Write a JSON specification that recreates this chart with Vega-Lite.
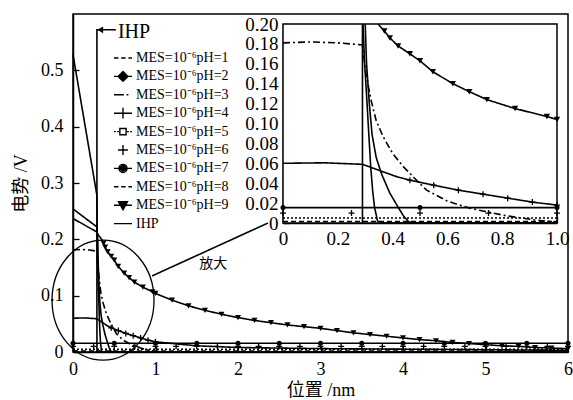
{
"$schema": "https://vega.github.io/schema/vega-lite/v6.json",
"width": 495, "height": 338,
"autosize": {"type": "none"},
"padding": {"left": 73, "top": 14, "right": 5, "bottom": 48},
"background": "white",
"config": {
  "view": {"stroke": "black", "strokeWidth": 1.5},
  "axis": {"grid": false, "domainColor": "black", "domainWidth": 1.5, "tickColor": "black", "tickWidth": 1.3, "labelColor": "black", "labelFont": "Liberation Serif", "labelOverlap": false, "labelFlush": false, "labelBound": false, "titleColor": "black", "titleFont": "Liberation Serif, Noto Sans CJK SC", "titleFontSize": 18, "titleFontWeight": "normal"}
},
"datasets": {
  "d": [
    {"s":"pH1","x":0,"y":0.528},{"s":"pH1","x":0.29,"y":0.278},{"s":"pH1","x":0.292,"y":0.2},{"s":"pH1","x":0.298,"y":0.16},{"s":"pH1","x":0.306,"y":0.124},{"s":"pH1","x":0.313,"y":0.09},{"s":"pH1","x":0.32,"y":0.057},{"s":"pH1","x":0.327,"y":0.033},{"s":"pH1","x":0.334,"y":0.016},{"s":"pH1","x":0.345,"y":0.002},{"s":"pH1","x":0.36,"y":0},{"s":"pH1","x":1,"y":0},{"s":"pH1","x":6,"y":0},
    {"s":"pH2","x":0,"y":0.254},{"s":"pH2","x":0.29,"y":0.222},{"s":"pH2","x":0.3,"y":0.2},{"s":"pH2","x":0.305,"y":0.16},{"s":"pH2","x":0.315,"y":0.12},{"s":"pH2","x":0.325,"y":0.089},{"s":"pH2","x":0.34,"y":0.066},{"s":"pH2","x":0.36,"y":0.049},{"s":"pH2","x":0.39,"y":0.03},{"s":"pH2","x":0.42,"y":0.016},{"s":"pH2","x":0.44,"y":0.007},{"s":"pH2","x":0.46,"y":0.001},{"s":"pH2","x":0.5,"y":0},{"s":"pH2","x":1,"y":0},{"s":"pH2","x":6,"y":0},
    {"s":"pH3","x":0,"y":0.181},{"s":"pH3","x":0.1,"y":0.182},{"s":"pH3","x":0.2,"y":0.181},{"s":"pH3","x":0.29,"y":0.179},{"s":"pH3","x":0.3,"y":0.155},{"s":"pH3","x":0.32,"y":0.125},{"s":"pH3","x":0.34,"y":0.103},{"s":"pH3","x":0.365,"y":0.087},{"s":"pH3","x":0.4,"y":0.07},{"s":"pH3","x":0.438,"y":0.057},{"s":"pH3","x":0.48,"y":0.045},{"s":"pH3","x":0.524,"y":0.033},{"s":"pH3","x":0.6,"y":0.022},{"s":"pH3","x":0.68,"y":0.015},{"s":"pH3","x":0.73,"y":0.012},{"s":"pH3","x":0.82,"y":0.007},{"s":"pH3","x":0.92,"y":0.003},{"s":"pH3","x":1,"y":0.001},{"s":"pH3","x":1.2,"y":0},
    {"s":"pH4","x":0,"y":0.06},{"s":"pH4","x":0.15,"y":0.0605},{"s":"pH4","x":0.29,"y":0.059},{"s":"pH4","x":0.354,"y":0.0526},{"s":"pH4","x":0.41,"y":0.047},{"s":"pH4","x":0.463,"y":0.043},{"s":"pH4","x":0.55,"y":0.038},{"s":"pH4","x":0.64,"y":0.033},{"s":"pH4","x":0.73,"y":0.029},{"s":"pH4","x":0.82,"y":0.025},{"s":"pH4","x":0.91,"y":0.021},{"s":"pH4","x":1,"y":0.018},{"s":"pH4","x":1.5,"y":0.011},{"s":"pH4","x":2,"y":0.008},{"s":"pH4","x":3,"y":0.006},{"s":"pH4","x":4,"y":0.005},{"s":"pH4","x":5,"y":0.004},{"s":"pH4","x":6,"y":0.003},
    {"s":"pH5","x":0,"y":0.005},{"s":"pH5","x":1,"y":0.005},{"s":"pH5","x":6,"y":0.005},
    {"s":"pH6","x":0,"y":0.01},{"s":"pH6","x":0.25,"y":0.01},{"s":"pH6","x":0.5,"y":0.01},{"s":"pH6","x":0.75,"y":0.01},{"s":"pH6","x":1,"y":0.01},{"s":"pH6","x":1.25,"y":0.01},{"s":"pH6","x":1.5,"y":0.01},{"s":"pH6","x":1.75,"y":0.01},{"s":"pH6","x":2,"y":0.01},{"s":"pH6","x":2.25,"y":0.01},{"s":"pH6","x":2.5,"y":0.01},{"s":"pH6","x":2.75,"y":0.01},{"s":"pH6","x":3,"y":0.01},{"s":"pH6","x":3.25,"y":0.01},{"s":"pH6","x":3.5,"y":0.01},{"s":"pH6","x":3.75,"y":0.01},{"s":"pH6","x":4,"y":0.01},{"s":"pH6","x":4.25,"y":0.01},{"s":"pH6","x":4.5,"y":0.01},{"s":"pH6","x":4.75,"y":0.01},{"s":"pH6","x":5,"y":0.01},{"s":"pH6","x":5.25,"y":0.01},{"s":"pH6","x":5.5,"y":0.01},{"s":"pH6","x":5.75,"y":0.01},{"s":"pH6","x":6,"y":0.01},
    {"s":"pH7","x":0,"y":0.0155},{"s":"pH7","x":0.5,"y":0.0155},{"s":"pH7","x":1,"y":0.0155},{"s":"pH7","x":1.5,"y":0.0155},{"s":"pH7","x":2,"y":0.0155},{"s":"pH7","x":2.5,"y":0.0155},{"s":"pH7","x":3,"y":0.0155},{"s":"pH7","x":3.5,"y":0.0155},{"s":"pH7","x":4,"y":0.0155},{"s":"pH7","x":4.5,"y":0.0155},{"s":"pH7","x":5,"y":0.0155},{"s":"pH7","x":5.5,"y":0.0155},{"s":"pH7","x":6,"y":0.0155},
    {"s":"pH8","x":0,"y":0.0015},{"s":"pH8","x":1,"y":0.0015},{"s":"pH8","x":6,"y":0.0015},
    {"s":"pH9","x":0,"y":0.237},{"s":"pH9","x":0.29,"y":0.213},{"s":"pH9","x":0.3,"y":0.209},{"s":"pH9","x":0.347,"y":0.2},{"s":"pH9","x":0.37,"y":0.193},{"s":"pH9","x":0.39,"y":0.186},{"s":"pH9","x":0.42,"y":0.178},{"s":"pH9","x":0.463,"y":0.17},{"s":"pH9","x":0.5,"y":0.163},{"s":"pH9","x":0.547,"y":0.152},{"s":"pH9","x":0.62,"y":0.14},{"s":"pH9","x":0.68,"y":0.132},{"s":"pH9","x":0.744,"y":0.124},{"s":"pH9","x":0.847,"y":0.115},{"s":"pH9","x":0.963,"y":0.107},{"s":"pH9","x":1,"y":0.104},{"s":"pH9","x":1.2,"y":0.092},{"s":"pH9","x":1.4,"y":0.082},{"s":"pH9","x":1.6,"y":0.074},{"s":"pH9","x":1.8,"y":0.067},{"s":"pH9","x":2,"y":0.061},{"s":"pH9","x":2.2,"y":0.056},{"s":"pH9","x":2.4,"y":0.052},{"s":"pH9","x":2.6,"y":0.048},{"s":"pH9","x":2.8,"y":0.045},{"s":"pH9","x":3,"y":0.042},{"s":"pH9","x":3.2,"y":0.038},{"s":"pH9","x":3.4,"y":0.034},{"s":"pH9","x":3.6,"y":0.031},{"s":"pH9","x":3.8,"y":0.028},{"s":"pH9","x":4,"y":0.025},{"s":"pH9","x":4.2,"y":0.022},{"s":"pH9","x":4.4,"y":0.02},{"s":"pH9","x":4.6,"y":0.017},{"s":"pH9","x":4.8,"y":0.015},{"s":"pH9","x":5,"y":0.013},{"s":"pH9","x":5.2,"y":0.011},{"s":"pH9","x":5.4,"y":0.01},{"s":"pH9","x":5.6,"y":0.008},{"s":"pH9","x":5.8,"y":0.007},{"s":"pH9","x":6,"y":0.006},
    {"s":"IHP","x":0.29,"y":0},{"s":"IHP","x":0.29,"y":0.2},{"s":"IHP","x":0.29,"y":0.572},{"s":"IHP","x":0.52,"y":0.572},
    {"s":"link","x":0.958,"y":0.135},{"s":"link","x":2.364,"y":0.229}
  ],
  "notes": [
    {"k":"IHP","x":0.545,"y":0.568,"t":"IHP"},
    {"k":"zoom","x":1.7,"y":0.156,"t":"放大"},
    {"k":"arrow","x":0.33,"y":0.572,"t":""},
    {"k":"lens","x":0.364,"y":0.092,"t":""}
  ],
  "keys": [
    {"k":"MES=10⁻⁶pH=1"},{"k":"MES=10⁻⁶pH=2"},{"k":"MES=10⁻⁶pH=3"},{"k":"MES=10⁻⁶pH=4"},{"k":"MES=10⁻⁶pH=5"},{"k":"MES=10⁻⁶pH=6"},{"k":"MES=10⁻⁶pH=7"},{"k":"MES=10⁻⁶pH=8"},{"k":"MES=10⁻⁶pH=9"},{"k":"IHP"}
  ]
},
"layer": [
  {
    "data": {"name": "d"},
    "transform": [{"filter": "datum.s != 'pH6'"}],
    "mark": {"type": "line", "color": "black", "strokeWidth": 1.6},
    "encoding": {
      "x": {"field": "x", "type": "quantitative", "scale": {"domain": [0, 6]},
            "axis": {"orient": "bottom", "title": "位置 /nm", "values": [0,1,2,3,4,5,6], "format": "d", "labelFontSize": 18, "tickSize": -6, "labelPadding": 14, "titlePadding": 3}},
      "y": {"field": "y", "type": "quantitative", "scale": {"domain": [0, 0.6]},
            "axis": {"orient": "left", "title": "电势 /V", "values": [0,0.1,0.2,0.3,0.4,0.5], "labelExpr": "datum.value == 0 ? '0' : format(datum.value, '.1f')", "labelFontSize": 18, "tickSize": -6, "labelPadding": 16, "titlePadding": 10}},
      "strokeDash": {"field": "s", "type": "nominal",
            "scale": {"domain": ["pH1","pH2","pH3","pH4","pH5","pH7","pH8","pH9","IHP","link"],
                      "range": [[1,0],[1,0],[7,3,2,3],[1,0],[2,2],[1,0],[5,3],[1,0],[1,0],[1,0]]},
            "legend": null},
      "order": {"value": null}
    }
  },
  {
    "data": {"name": "d"},
    "transform": [{"filter": "datum.s == 'pH9' && datum.x >= 0.36"}],
    "mark": {"type": "point", "shape": "triangle-down", "filled": true, "color": "black", "opacity": 1, "size": 36},
    "encoding": {
      "x": {"field": "x", "type": "quantitative", "scale": {"domain": [0, 6]}, "axis": null},
      "y": {"field": "y", "type": "quantitative", "scale": {"domain": [0, 0.6]}, "axis": null}
    }
  },
  {
    "data": {"name": "d"},
    "transform": [{"filter": "datum.s == 'pH7'"}],
    "mark": {"type": "point", "shape": "circle", "filled": true, "color": "black", "opacity": 1, "size": 25},
    "encoding": {
      "x": {"field": "x", "type": "quantitative", "scale": {"domain": [0, 6]}, "axis": null},
      "y": {"field": "y", "type": "quantitative", "scale": {"domain": [0, 0.6]}, "axis": null}
    }
  },
  {
    "data": {"name": "d"},
    "transform": [{"filter": "datum.s == 'pH6' || (datum.s == 'pH4' && datum.x >= 0.46 && datum.x <= 1.01)"}],
    "mark": {"type": "point", "shape": "M-1,0H1M0,-1V1", "filled": false, "color": "black", "strokeWidth": 1.3, "opacity": 1, "size": 36},
    "encoding": {
      "x": {"field": "x", "type": "quantitative", "scale": {"domain": [0, 6]}, "axis": null},
      "y": {"field": "y", "type": "quantitative", "scale": {"domain": [0, 0.6]}, "axis": null}
    }
  },
  {
    "data": {"name": "notes"},
    "transform": [{"filter": "datum.k == 'arrow'"}],
    "mark": {"type": "point", "shape": "triangle-left", "filled": true, "color": "black", "opacity": 1, "size": 45},
    "encoding": {
      "x": {"field": "x", "type": "quantitative", "scale": {"domain": [0, 6]}, "axis": null},
      "y": {"field": "y", "type": "quantitative", "scale": {"domain": [0, 0.6]}, "axis": null}
    }
  },
  {
    "data": {"name": "notes"},
    "transform": [{"filter": "datum.k == 'lens'"}],
    "mark": {"type": "point", "shape": "M-0.85,0A0.85,1,0,1,0,0.85,0A0.85,1,0,1,0,-0.85,0Z", "filled": false, "color": "black", "strokeWidth": 1.3, "opacity": 1, "size": 14400},
    "encoding": {
      "x": {"field": "x", "type": "quantitative", "scale": {"domain": [0, 6]}, "axis": null},
      "y": {"field": "y", "type": "quantitative", "scale": {"domain": [0, 0.6]}, "axis": null}
    }
  },
  {
    "data": {"name": "notes"},
    "transform": [{"filter": "datum.k == 'IHP'"}],
    "mark": {"type": "text", "align": "left", "baseline": "middle", "font": "Liberation Serif", "fontSize": 20, "color": "black"},
    "encoding": {
      "x": {"field": "x", "type": "quantitative", "scale": {"domain": [0, 6]}, "axis": null},
      "y": {"field": "y", "type": "quantitative", "scale": {"domain": [0, 0.6]}, "axis": null},
      "text": {"field": "t"}
    }
  },
  {
    "data": {"name": "notes"},
    "transform": [{"filter": "datum.k == 'zoom'"}],
    "mark": {"type": "text", "align": "center", "baseline": "middle", "font": "Noto Sans CJK SC", "fontSize": 14, "color": "black"},
    "encoding": {
      "x": {"field": "x", "type": "quantitative", "scale": {"domain": [0, 6]}, "axis": null},
      "y": {"field": "y", "type": "quantitative", "scale": {"domain": [0, 0.6]}, "axis": null},
      "text": {"field": "t"}
    }
  },
  {
    "data": {"values": [{}]},
    "mark": {"type": "rect", "fill": "white", "stroke": "black", "strokeWidth": 1.5},
    "encoding": {
      "x": {"datum": 0, "type": "quantitative", "scale": {"domain": [0, 1], "range": [210, 484]},
            "axis": {"orient": "bottom", "offset": -129, "title": null, "values": [0,0.2,0.4,0.6,0.8,1], "labelExpr": "datum.value == 0 ? '0' : format(datum.value, '.1f')", "labelFontSize": 19, "tickSize": -7, "labelPadding": 13}},
      "x2": {"datum": 1},
      "y": {"datum": 0, "type": "quantitative", "scale": {"domain": [0, 0.2], "range": [209, 10]},
            "axis": {"orient": "left", "offset": -210, "title": null, "values": [0,0.02,0.04,0.06,0.08,0.1,0.12,0.14,0.16,0.18,0.2], "labelExpr": "datum.value == 0 ? '0' : format(datum.value, '.2f')", "labelFontSize": 19, "tickSize": -6, "labelPadding": 11}},
      "y2": {"datum": 0.2}
    }
  },
  {
    "data": {"name": "d"},
    "transform": [{"filter": "datum.x <= 1.0001 && datum.y <= 0.2001 && datum.s != 'link' && datum.s != 'pH6'"}],
    "mark": {"type": "line", "color": "black", "strokeWidth": 1.6},
    "encoding": {
      "x": {"field": "x", "type": "quantitative", "scale": {"domain": [0, 1], "range": [210, 484]}, "axis": null},
      "y": {"field": "y", "type": "quantitative", "scale": {"domain": [0, 0.2], "range": [209, 10]}, "axis": null},
      "strokeDash": {"field": "s", "type": "nominal",
            "scale": {"domain": ["pH1","pH2","pH3","pH4","pH5","pH7","pH8","pH9","IHP","link"],
                      "range": [[1,0],[1,0],[7,3,2,3],[1,0],[2,2],[1,0],[5,3],[1,0],[1,0],[1,0]]},
            "legend": null},
      "order": {"value": null}
    }
  },
  {
    "data": {"name": "d"},
    "transform": [{"filter": "datum.s == 'pH9' && datum.x >= 0.36 && datum.x <= 1.0001"}],
    "mark": {"type": "point", "shape": "triangle-down", "filled": true, "color": "black", "opacity": 1, "size": 40},
    "encoding": {
      "x": {"field": "x", "type": "quantitative", "scale": {"domain": [0, 1], "range": [210, 484]}, "axis": null},
      "y": {"field": "y", "type": "quantitative", "scale": {"domain": [0, 0.2], "range": [209, 10]}, "axis": null}
    }
  },
  {
    "data": {"name": "d"},
    "transform": [{"filter": "datum.s == 'pH7' && datum.x <= 1.0001"}],
    "mark": {"type": "point", "shape": "circle", "filled": true, "color": "black", "opacity": 1, "size": 25},
    "encoding": {
      "x": {"field": "x", "type": "quantitative", "scale": {"domain": [0, 1], "range": [210, 484]}, "axis": null},
      "y": {"field": "y", "type": "quantitative", "scale": {"domain": [0, 0.2], "range": [209, 10]}, "axis": null}
    }
  },
  {
    "data": {"name": "d"},
    "transform": [{"filter": "(datum.s == 'pH6' && datum.x <= 1.0001) || (datum.s == 'pH4' && datum.x >= 0.46 && datum.x <= 1.01)"}],
    "mark": {"type": "point", "shape": "M-1,0H1M0,-1V1", "filled": false, "color": "black", "strokeWidth": 1.3, "opacity": 1, "size": 36},
    "encoding": {
      "x": {"field": "x", "type": "quantitative", "scale": {"domain": [0, 1], "range": [210, 484]}, "axis": null},
      "y": {"field": "y", "type": "quantitative", "scale": {"domain": [0, 0.2], "range": [209, 10]}, "axis": null}
    }
  },
  {
    "data": {"name": "keys"},
    "transform": [{"filter": "false"}],
    "mark": {"type": "point", "filled": false, "color": "black", "strokeWidth": 1.4, "opacity": 1},
    "encoding": {
      "shape": {"field": "k", "type": "nominal",
        "scale": {
          "domain": ["MES=10⁻⁶pH=1","MES=10⁻⁶pH=2","MES=10⁻⁶pH=3","MES=10⁻⁶pH=4","MES=10⁻⁶pH=5","MES=10⁻⁶pH=6","MES=10⁻⁶pH=7","MES=10⁻⁶pH=8","MES=10⁻⁶pH=9","IHP"],
          "range": [
            "M-1,0H-0.5M-0.2,0H0.3M0.6,0H1",
            "M-1,0H1M0,-0.55L0.55,0L0,0.55L-0.55,0ZM0,-0.4L0.4,0L0,0.4L-0.4,0ZM0,-0.25L0.25,0L0,0.25L-0.25,0ZM0,-0.1L0.1,0L0,0.1L-0.1,0Z",
            "M-1,0H0.1M0.4,0H0.6",
            "M-1,0H1M0,-0.6V0.6",
            "M-1,0H-0.8M-0.65,0H-0.45M0.45,0H0.65M0.8,0H1M-0.35,-0.35H0.35V0.35H-0.35Z",
            "M-0.55,0H0.55M0,-0.55V0.55",
            "M-1,0H1M-0.45,0A0.45,0.45,0,1,1,0.45,0A0.45,0.45,0,1,1,-0.45,0ZM-0.3,0A0.3,0.3,0,1,1,0.3,0A0.3,0.3,0,1,1,-0.3,0ZM-0.15,0A0.15,0.15,0,1,1,0.15,0A0.15,0.15,0,1,1,-0.15,0Z",
            "M-1,0H-0.5M-0.2,0H0.3M0.6,0H1",
            "M-1,0H1M-0.5,-0.4H0.5L0,0.5ZM-0.3,-0.27H0.3L0,0.27ZM-0.1,-0.15H0.1L0,0.05Z",
            "M-1,0H1"
          ]
        },
        "legend": {"title": null, "orient": "none", "legendX": 40, "legendY": 35, "symbolSize": 324, "clipHeight": 18, "rowPadding": 0.4, "labelFont": "Liberation Serif", "labelFontSize": 14, "labelColor": "black", "labelOffset": 3, "padding": 0, "symbolStrokeColor": "black", "symbolStrokeWidth": 1.4, "symbolOpacity": 1}
      }
    }
  }
],
"resolve": {"scale": {"x": "independent", "y": "independent"}}
}
